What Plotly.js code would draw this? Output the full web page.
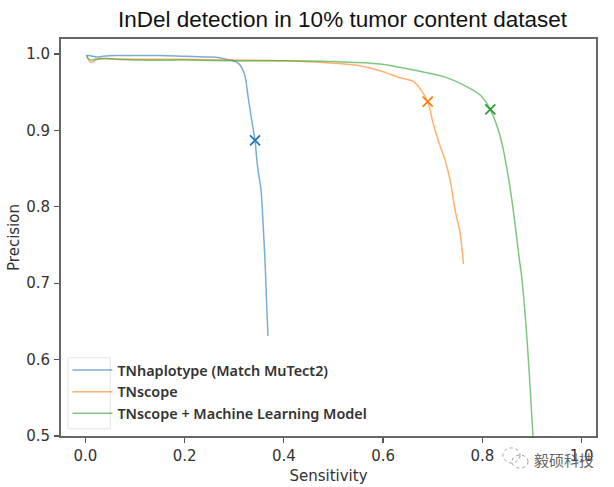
<!DOCTYPE html>
<html><head><meta charset="utf-8">
<script src="https://cdn.plot.ly/plotly-3.0.1.min.js"></script>
<style>html,body{margin:0;padding:0;background:#fff}#c{width:614px;height:487px}</style></head>
<body><div id="c"></div>
<script>
const blueX=[0.003,0.008,0.015,0.022,0.035,0.06,0.1,0.15,0.2,0.25,0.27,0.285,0.298,0.308,0.32,0.328,0.336,0.342,0.345,0.348,0.354,0.358,0.362,0.365,0.368];
const blueY=[0.998,0.998,0.997,0.996,0.997,0.998,0.998,0.998,0.997,0.996,0.995,0.993,0.991,0.988,0.975,0.944,0.91,0.887,0.865,0.848,0.822,0.78,0.73,0.68,0.631];
const orangeX=[0.003,0.007,0.011,0.018,0.03,0.06,0.1,0.2,0.3,0.4,0.5,0.55,0.594,0.634,0.661,0.678,0.69,0.701,0.711,0.725,0.735,0.745,0.755,0.762];
const orangeY=[0.997,0.992,0.989,0.991,0.994,0.993,0.993,0.993,0.992,0.991,0.988,0.985,0.978,0.969,0.964,0.951,0.9375,0.909,0.887,0.861,0.835,0.796,0.766,0.725];
const greenX=[0.002,0.006,0.012,0.02,0.04,0.1,0.2,0.3,0.4,0.5,0.594,0.661,0.728,0.769,0.796,0.816,0.836,0.85,0.863,0.873,0.88,0.89,0.902];
const greenY=[0.999,0.994,0.992,0.993,0.994,0.992,0.992,0.991,0.991,0.99,0.987,0.979,0.969,0.957,0.946,0.9276,0.892,0.848,0.792,0.739,0.704,0.626,0.5];
const markX=[0.342,0.69,0.816];
const markY=[0.887,0.9375,0.9276];
const names=["TNhaplotype (Match MuTect2)","TNscope","TNscope + Machine Learning Model"];
const colors=["#1f77b4","#ff7f0e","#2ca02c"];
const xTicks=[0,0.2,0.4,0.6,0.8,1.0];
const yTicks=[0.5,0.6,0.7,0.8,0.9,1.0];
const xs=[blueX,orangeX,greenX], ys=[blueY,orangeY,greenY];
const traces=names.map((n,i)=>({x:xs[i],y:ys[i],name:n,type:"scatter",mode:"lines",opacity:0.6,
  line:{color:colors[i],width:1.5,shape:"spline",smoothing:1}}));
markX.forEach((mx,i)=>traces.push({x:[mx],y:[markY[i]],type:"scatter",mode:"markers",showlegend:false,
  marker:{symbol:"x-thin",size:10,line:{color:colors[i],width:1.8}}}));
const tf={family:"DejaVu Sans",size:15,color:"#333"};
const axis={showgrid:false,zeroline:false,ticks:"outside",ticklen:5,tickwidth:1.3,tickcolor:"#555",
  showline:true,linecolor:"#666",linewidth:2,mirror:true,tickfont:tf};
const tt={family:"DejaVu Sans",size:15,color:"#333"};
const layout={
  width:614,height:487,margin:{l:61,r:18,t:39,b:51},paper_bgcolor:"#fff",plot_bgcolor:"#fff",
  showlegend:true,
  xaxis:{...axis,range:[-0.049,1.029],tickvals:xTicks,ticktext:xTicks.map(v=>v.toFixed(1)),
    title:{text:"Sensitivity",font:tt,standoff:6}},
  yaxis:{...axis,range:[0.5,1.0196],tickvals:yTicks,ticktext:yTicks.map(v=>v.toFixed(1)),ticklabelstandoff:1,
    title:{text:"Precision",font:tt,standoff:3}},
  legend:{x:0.012,y:0.015,xanchor:"left",yanchor:"bottom",bgcolor:"rgba(255,255,255,0)",borderwidth:0,
    font:{family:"Noto Sans",size:14.4,color:"#333",weight:600},tracegroupgap:0,itemwidth:40},
  annotations:[
    {xref:"paper",yref:"paper",x:0.527,y:1.012,xanchor:"center",yanchor:"bottom",showarrow:false,
     text:"InDel detection in 10% tumor content dataset",font:{family:"Liberation Sans",size:22.5,color:"#111"}},
    {xref:"paper",yref:"paper",x:1.0,y:-0.06,xanchor:"right",yanchor:"middle",showarrow:false,
     text:"毅硕科技",font:{family:"Noto Sans CJK SC",size:15,color:"#666"}}
  ],
  shapes:[
    {type:"rect",xref:"paper",yref:"paper",x0:0.013,x1:0.092,y0:0.018,y1:0.197,line:{color:"#e4e4e4",width:1},fillcolor:"#fff"},
    {type:"circle",xref:"paper",yref:"paper",x0:0.826,x1:0.858,y0:-0.068,y1:-0.03,line:{color:"#999",width:1,dash:"dot"}},
    {type:"circle",xref:"paper",yref:"paper",x0:0.843,x1:0.873,y0:-0.081,y1:-0.048,line:{color:"#999",width:1,dash:"dot"}}
  ]
};
Plotly.newPlot("c",traces,layout,{displayModeBar:false,staticPlot:true});
</script></body></html>
